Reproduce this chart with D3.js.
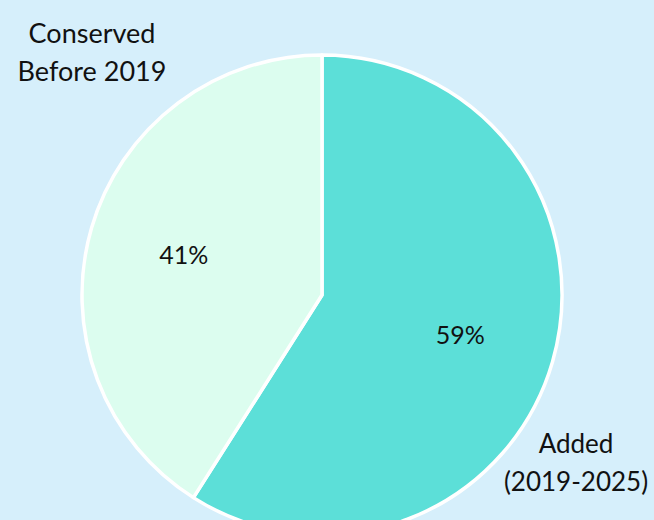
<!DOCTYPE html>
<html>
<head>
<meta charset="utf-8">
<script src="https://cdn.jsdelivr.net/npm/d3@7"></script>
<style>
  body { margin: 0; background: #d6effb; }
  svg { display: block; font-family: Lato, "Open Sans", sans-serif; }
</style>
</head>
<body>
<svg id="chart"></svg>
<script>
  const width = 654,
        height = 520,
        cx = 322,
        cy = 295,
        radius = 240;

  // slice data, clockwise from 12 o'clock
  const categories = ["Added (2019-2025)", "Conserved Before 2019"];
  const shares = [59, 41];
  const colors = ["#5cdfd8", "#dcfdef"];

  // outer labels: lines and where they sit
  const outerLines = [["Added", "(2019-2025)"], ["Conserved", "Before 2019"]];
  const outerPos = [[576, 453], [92, 43]];
  const outerSize = [26, 27];

  let svg = d3.select("#chart")
              .attr("width", width)
              .attr("height", height);

  svg.append("rect")
     .attr("width", width)
     .attr("height", height)
     .attr("fill", "#d6effb");

  let data = categories.map((c, i) => ({name: c, value: shares[i], color: colors[i],
                                         lines: outerLines[i], pos: outerPos[i], size: outerSize[i]}));

  let pie = d3.pie()
              .sort(null)
              .value((d) => d.value);

  let arc = d3.arc()
              .innerRadius(0)
              .outerRadius(radius);

  let labelArc = d3.arc()
                   .innerRadius(radius * 0.6)
                   .outerRadius(radius * 0.6);

  let g = svg.append("g")
             .attr("transform", "translate(" + cx + "," + cy + ")");

  let slices = g.selectAll("g.slice")
                .data(pie(data))
                .enter()
                .append("g")
                .attr("class", "slice");

  slices.append("path")
        .attr("d", arc)
        .attr("fill", (d) => d.data.color)
        .attr("stroke", "#ffffff")
        .attr("stroke-width", 3.5)
        .attr("stroke-linejoin", "round");

  // percentage labels
  slices.append("text")
        .attr("transform", (d) => "translate(" + labelArc.centroid(d) + ")")
        .attr("text-anchor", "middle")
        .attr("dy", "0.36em")
        .attr("font-size", 25)
        .attr("fill", "#111")
        .text((d) => d.data.value + "%");

  // category labels outside the pie
  let outer = svg.selectAll("text.outer")
                 .data(data)
                 .enter()
                 .append("text")
                 .attr("class", "outer")
                 .attr("text-anchor", "middle")
                 .attr("font-size", (d) => d.size)
                 .attr("fill", "#111");

  outer.each(function (d) {
    let t = d3.select(this);
    d.lines.forEach((line, i) => {
      t.append("tspan")
       .attr("x", d.pos[0])
       .attr("y", d.pos[1] + i * 38)
       .text(line);
    });
  });
</script>
</body>
</html>
